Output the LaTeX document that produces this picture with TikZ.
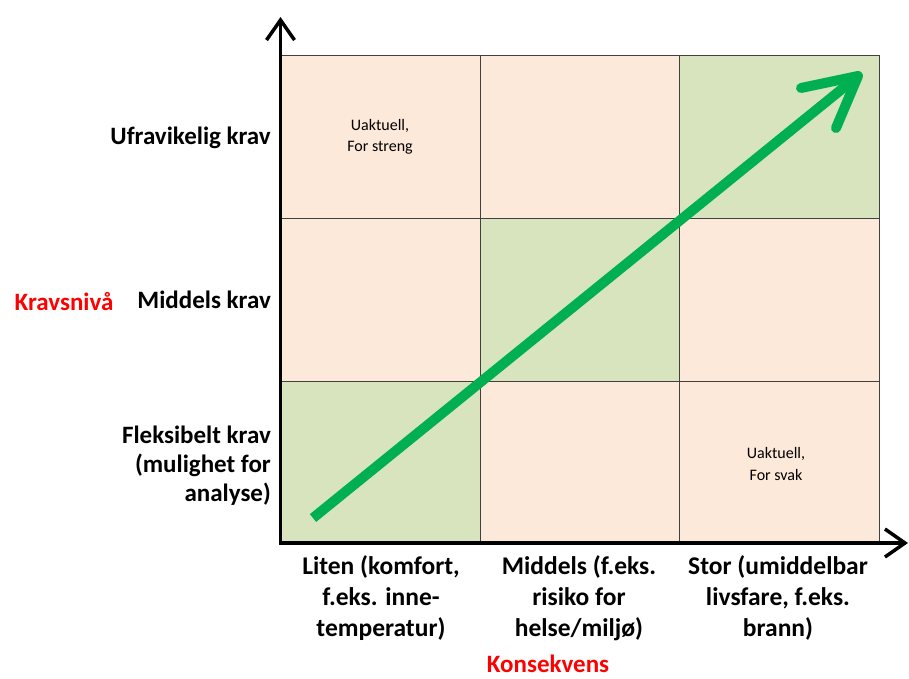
\documentclass[tikz,border=0pt]{standalone}
\usepackage{fontspec}
\setmainfont{Carlito}
\usetikzlibrary{arrows.meta,calc}
\definecolor{peach}{HTML}{FDE9D9}
\definecolor{lgreen}{HTML}{D7E4BD}
\definecolor{arrowgreen}{HTML}{00B050}
\tikzset{
  cellbox/.style={draw=black!75, line width=0.8pt, minimum width=199.5pt, minimum height=163pt, inner sep=0pt, anchor=north west},
  axisline/.style={line width=3.5pt, -{Straight Barb[length=20pt,width=28pt,line width=3.5pt]}},
  lvl/.style={font=\fontsize{25}{29}\selectfont\bfseries, anchor=east, align=right, inner sep=0pt},
  cons/.style={font=\fontsize{25.5}{31}\selectfont\bfseries, anchor=north, align=center, inner sep=0pt},
  note/.style={font=\fontsize{16}{21.5}\selectfont, align=center, inner sep=0pt},
  title/.style={font=\fontsize{25}{28}\selectfont\bfseries, text=red, inner sep=0pt}
}
\begin{document}
\begin{tikzpicture}[x=1pt,y=-1pt]
\useasboundingbox (0,0) rectangle (909,678);
% cells
\node[cellbox, fill=peach]  (c13) at (280,55) {};
\node[cellbox, fill=peach]  (c23) at (479.5,55) {};
\node[cellbox, fill=lgreen] (c33) at (679,55) {};
\node[cellbox, fill=peach]  (c12) at (280,218) {};
\node[cellbox, fill=lgreen] (c22) at (479.5,218) {};
\node[cellbox, fill=peach]  (c32) at (679,218) {};
\node[cellbox, fill=lgreen] (c11) at (280,381) {};
\node[cellbox, fill=peach]  (c21) at (479.5,381) {};
\node[cellbox, fill=peach]  (c31) at (679,381) {};
% notes
\node[note] (n1) at (380,137) {Uaktuell,\\For streng};
\node[note] (n2) at (776,464) {Uaktuell,\\For svak};
% axes
\coordinate (o) at (280.5,543);
\coordinate (ytop) at (280.5,17);
\coordinate (xend) at (908,543);
\draw[axisline] (o) -- (ytop);
\draw[axisline] ([xshift=-1.75pt]o) -- (xend);
% green arrow
\coordinate (gs) at (313,518);
\coordinate (gt) at (858,76);
\coordinate (gl) at (801,88);
\coordinate (gr) at (836,128);
\draw[arrowgreen, line width=10pt] (gs) -- ($(gt)!6pt!(gs)$);
\draw[arrowgreen, line width=10pt, line cap=round, line join=round] (gl) -- (gt) -- (gr);
% level labels
\node[lvl] (l3) at (271,138) {Ufravikelig krav};
\node[lvl] (l2) at (271,300) {Middels krav};
\node[lvl] (l1) at (271,466) {Fleksibelt krav\\(mulighet for\\analyse)};
\node[title] (ky) at (64,302) {Kravsnivå};
% consequence labels
\node[cons] (k1) at (381,555.5) {Liten (komfort,\\f.eks. inne-\\temperatur)};
\node[cons] (k2) at (579,555.5) {Middels (f.eks.\\risiko for\\helse/miljø)};
\node[cons] (k3) at (778,555.5) {Stor (umiddelbar\\livsfare, f.eks.\\brann)};
\node[title] (kx) at (548,664) {Konsekvens};
\end{tikzpicture}
\end{document}
